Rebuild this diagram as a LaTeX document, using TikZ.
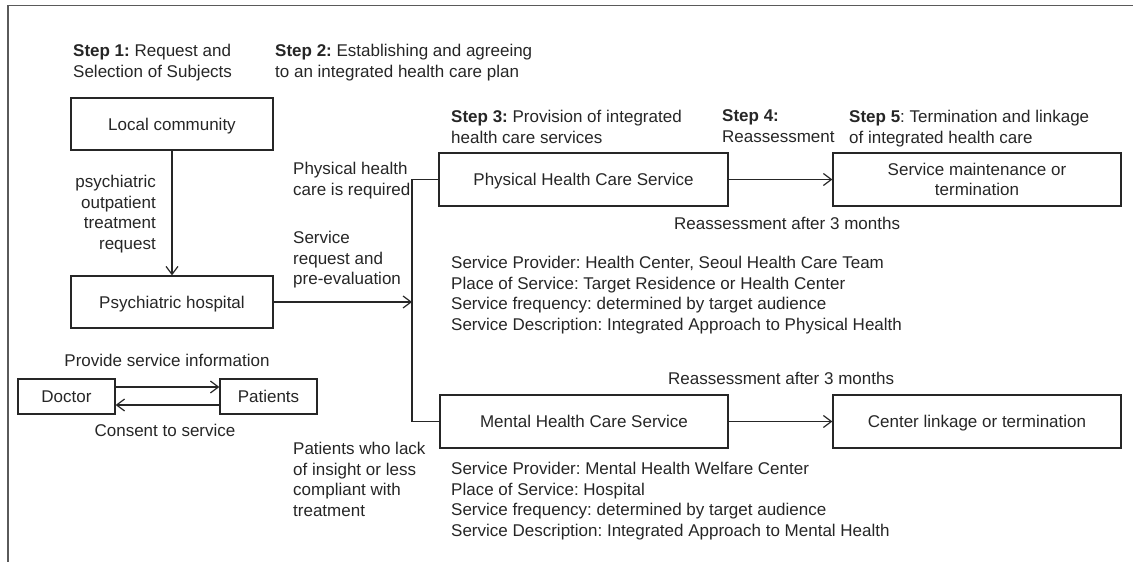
\documentclass[tikz,border=0pt]{standalone}
\usepackage{fontspec}
\setmainfont{Liberation Sans}
\usetikzlibrary{arrows.meta}
\definecolor{ink}{HTML}{262626}
\definecolor{framec}{HTML}{5A5A5A}
\frenchspacing
\begin{document}
\begin{tikzpicture}[x=1pt,y=-1pt,
  font=\fontsize{17}{20.8}\selectfont, color=ink,
  box/.style={draw=ink, line width=1.2pt, inner sep=0pt, align=center},
  onebox/.style={box, text height=12.5pt, text depth=0pt},
  lbl/.style={inner sep=0pt, align=left, anchor=north west},
  arr/.style={draw=ink, line width=1.2pt, -{Straight Barb[length=8pt,width=12pt]}},
  ln/.style={draw=ink, line width=1.2pt}]
\useasboundingbox (0,0) rectangle (1133,562);
\draw[framec, line width=1.4pt] (8,562) -- (8,5.5) -- (1133,5.5);

% boxes
\node[onebox, minimum width=202pt, minimum height=52pt] (lc) at (172,124) {Local community};
\node[onebox, minimum width=202pt, minimum height=52pt] (ph) at (172,302) {Psychiatric hospital};
\node[onebox, minimum width=289pt, minimum height=53pt] (phys) at (583.5,179.5) {Physical Health Care Service};
\node[box, minimum width=288pt, minimum height=53pt] (smt) at (977,179.5) {Service maintenance or\\termination};
\node[onebox, minimum width=288pt, minimum height=53pt] (mhs) at (584,421.5) {Mental Health Care Service};
\node[onebox, minimum width=288pt, minimum height=53pt] (clt) at (977,421.5) {Center linkage or termination};
\node[onebox, minimum width=97pt, minimum height=35pt] (doc) at (66.5,396.5) {Doctor};
\node[onebox, minimum width=97pt, minimum height=35pt] (pat) at (268.5,396.5) {Patients};

% labels
\node[lbl] (s1) at (73,43.8) {\textbf{Step 1:} Request and\\Selection of Subjects};
\node[lbl] (s2) at (275,43.8) {\textbf{Step 2:} Establishing and agreeing\\to an integrated health care plan};
\node[lbl] (s3) at (451,109.8) {\textbf{Step 3:} Provision of integrated\\health care services};
\node[lbl] (s4) at (722,109.8) {\textbf{Step 4:}\\Reassessment};
\node[lbl] (s5) at (849,109.8) {\textbf{Step 5}: Termination and linkage\\of integrated health care};
\node[lbl] (preq) at (293,161.8) {Physical health\\care is required};
\node[inner sep=0pt, align=right, anchor=north east] (opt) at (156,174.8) {psychiatric\\outpatient\\treatment\\request};
\node[lbl] (sreq) at (293,230.8) {Service\\request and\\pre-evaluation};
\node[lbl] (pblk) at (451,255.8) {Service Provider: Health Center, Seoul Health Care Team\\Place of Service: Target Residence or Health Center\\Service frequency: determined by target audience\\Service Description: Integrated Approach to Physical Health};
\node[lbl] (mblk) at (451,461.8) {Service Provider: Mental Health Welfare Center\\Place of Service: Hospital\\Service frequency: determined by target audience\\Service Description: Integrated Approach to Mental Health};
\node[lbl] (plack) at (293,441.8) {Patients who lack\\of insight or less\\compliant with\\treatment};
\node[inner sep=0pt, anchor=base west] (ra1) at (674,229) {Reassessment after 3 months};
\node[inner sep=0pt, anchor=base west] (ra2) at (668,384) {Reassessment after 3 months};
\node[inner sep=0pt, anchor=base] (psi) at (167,366) {Provide service information};
\node[inner sep=0pt, anchor=base] (cts) at (165,436) {Consent to service};

% connectors
\coordinate (jt) at (412,179.5);
\coordinate (jm) at (412,302);
\coordinate (jb) at (412,421.5);
\draw[arr] (lc) -- (ph);
\draw[arr] (ph.east) -- (jm);
\draw[ln] (phys.west) -- (jt) -- (jb) -- (mhs.west);
\draw[arr] (phys) -- (smt);
\draw[arr] (mhs) -- (clt);
\draw[arr] ([yshift=9.5pt]doc.east) -- ([yshift=9.5pt]pat.west);
\draw[arr] ([yshift=-8.5pt]pat.west) -- ([yshift=-8.5pt]doc.east);
\end{tikzpicture}
\end{document}
